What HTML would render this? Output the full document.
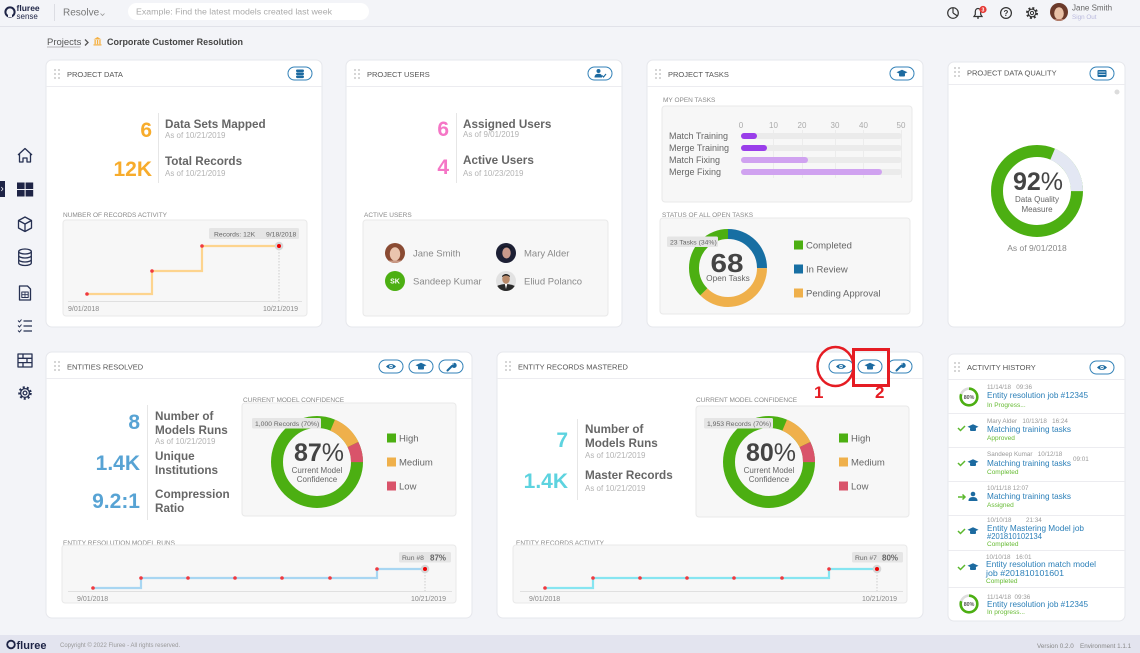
<!DOCTYPE html>
<html><head><meta charset="utf-8"><style>
html,body{margin:0;padding:0;width:1140px;height:653px;overflow:hidden;background:#f3f4f8}
svg{display:block}
text{font-family:"Liberation Sans",sans-serif}
.ct{font-size:7.5px;fill:#555}
.sub{font-size:6.5px;fill:#8a8a8a}
.lbl{font-size:11.7px;font-weight:bold;fill:#666}
.asof{font-size:8px;fill:#b3b3b3}
.ax{font-size:7px;fill:#888}
.tip{font-size:6.8px;fill:#666}
.leg{font-size:9.5px;fill:#666}
.ahd{font-size:6.3px;fill:#9a9a9a}
.aht{font-size:8.3px;fill:#2b7fb8}
.ahs{font-size:6.5px;fill:#66bb33}
.bar{font-size:9px;fill:#666}
.axn{font-size:8px;fill:#aaa}
</style></head><body>
<svg width="1140" height="653" viewBox="0 0 1140 653" xmlns="http://www.w3.org/2000/svg">
<defs>
<g id="dots" fill="#c6c6c6"><circle cx="0" cy="0" r="0.95"/><circle cx="4" cy="0" r="0.95"/><circle cx="0" cy="4" r="0.95"/><circle cx="4" cy="4" r="0.95"/><circle cx="0" cy="8" r="0.95"/><circle cx="4" cy="8" r="0.95"/></g>
<rect id="pill" x="0" y="0" width="24" height="13" rx="6.5" fill="#fff" stroke="#3382b8" stroke-width="1"/>
<g id="eye"><path d="M-5 0 Q0 -5 5 0 Q0 5 -5 0 Z" fill="#1c6aa0"/><circle r="1.7" fill="#fff"/><circle r="0.8" fill="#1c6aa0"/></g>
<g id="cap" fill="#1c6aa0"><polygon points="-5.5,-1.2 0,-3.8 5.5,-1.2 0,1.4"/><rect x="-3" y="-0.2" width="6" height="3.2" rx="1"/></g>
<g id="wrench"><path d="M-3.5 3.5 L1 -1" stroke="#1c6aa0" stroke-width="2" stroke-linecap="round"/><path d="M0.5 -1.5 A2.6 2.6 0 1 0 3.3 -4.2 L2.2 -2.2 L1.2 -3.2 L3.3 -4.2" fill="#1c6aa0"/></g>
<clipPath id="cav"><circle r="10"/></clipPath>
<clipPath id="cav9"><circle r="9"/></clipPath>
</defs>

<!-- TOP BAR -->
<line x1="0" y1="26.5" x2="1140" y2="26.5" stroke="#e1e2e9"/>
<circle cx="10" cy="12" r="4.6" fill="none" stroke="#1e2446" stroke-width="2"/>
<rect x="8" y="14" width="4" height="3" fill="#f3f4f8"/>
<text x="16.5" y="11" font-size="8.5" font-weight="bold" fill="#1e2446">fluree</text>
<text x="16.5" y="19" font-size="8" fill="#1e2446">sense</text>
<line x1="54.5" y1="4" x2="54.5" y2="21" stroke="#dcdde3"/>
<text x="63" y="15.5" font-size="10" fill="#777">Resolve</text>
<path d="M100.5 13.5 L102.5 15.5 L104.5 13.5" fill="none" stroke="#999" stroke-width="0.8"/>
<rect x="128" y="3" width="241" height="17" rx="8.5" fill="#fff"/>
<text x="136" y="14.5" font-size="8.3" fill="#aaa" textLength="196" lengthAdjust="spacingAndGlyphs">Example: Find the latest models created last week</text>
<!-- right icons -->
<circle cx="953" cy="13" r="5.3" fill="none" stroke="#333" stroke-width="1.2"/>
<path d="M953 13 V7.7 M953 13 L957.5 16" stroke="#333" stroke-width="1.2" fill="none"/>
<path d="M974 16.5 H982 L980.7 14.5 V11.5 A2.7 3 0 0 0 975.3 11.5 V14.5 Z M977 18 H979" fill="none" stroke="#333" stroke-width="1.2"/>
<circle cx="983" cy="9.5" r="3.6" fill="#e53935"/>
<text x="983" y="11.4" font-size="5.2" font-weight="bold" fill="#fff" text-anchor="middle">3</text>
<circle cx="1006" cy="13" r="5.4" fill="none" stroke="#333" stroke-width="1.2"/>
<text x="1006" y="16" font-size="8" font-weight="bold" fill="#333" text-anchor="middle">?</text>
<circle cx="1032" cy="13" r="4.8" fill="none" stroke="#333" stroke-width="2.4" stroke-dasharray="1.9 1.9"/>
<circle cx="1032" cy="13" r="3.8" fill="#f3f4f8" stroke="#333" stroke-width="1.1"/>
<circle cx="1032" cy="13" r="1.6" fill="none" stroke="#333" stroke-width="1"/>
<g transform="translate(1059,12)" clip-path="url(#cav9)"><rect x="-10" y="-10" width="20" height="20" fill="#6b3a2a"/><ellipse cx="0" cy="1.5" rx="4.8" ry="6.2" fill="#e9c1a6"/><rect x="-10" y="7" width="20" height="5" fill="#b47d6a"/></g>
<text x="1072" y="10.5" font-size="8" fill="#666">Jane Smith</text>
<text x="1072" y="19" font-size="6.3" fill="#b9b9dd">Sign Out</text>

<!-- BREADCRUMB -->
<text x="47" y="45" font-size="9.5" fill="#555">Projects</text>
<line x1="47" y1="47" x2="80.5" y2="47" stroke="#777" stroke-width="0.6"/>
<path d="M85 39.5 L88 42.5 L85 45.5" fill="none" stroke="#555" stroke-width="1.3"/>
<g fill="#f5b041"><polygon points="93.5,39.5 97.5,37 101.5,39.5"/><rect x="94.5" y="40" width="1.3" height="4.2"/><rect x="96.9" y="40" width="1.3" height="4.2"/><rect x="99.3" y="40" width="1.3" height="4.2"/><rect x="93.5" y="44.3" width="8" height="1.2"/></g>
<text x="107" y="45" font-size="9.5" font-weight="bold" fill="#444" textLength="136" lengthAdjust="spacingAndGlyphs">Corporate Customer Resolution</text>

<!-- SIDEBAR -->
<g fill="none" stroke="#263052" stroke-width="1.3" stroke-linejoin="round">
<path d="M18 155 L25 148.5 L32 155 M19.5 153.5 V162 H23 V158 H27 V162 H30.5 V153.5"/>
<path d="M25 217 L31.5 220.5 V228 L25 231.5 L18.5 228 V220.5 Z M18.5 220.5 L25 224 L31.5 220.5 M25 224 V231.5"/>
<ellipse cx="25" cy="251.5" rx="6.3" ry="2.5"/>
<path d="M18.7 251.5 V263 A6.3 2.5 0 0 0 31.3 263 V251.5 M18.7 255.5 A6.3 2.5 0 0 0 31.3 255.5 M18.7 259.5 A6.3 2.5 0 0 0 31.3 259.5"/>
<path d="M19.5 286 H27.5 L30.5 289 V300 H19.5 Z"/>
<rect x="21.8" y="292" width="6.4" height="5.5" stroke-width="1"/>
<path d="M21.8 294.7 H28.2 M25 292 V297.5" stroke-width="0.8"/>
<path d="M18 320.5 L19.5 322 L21.5 319.5 M18 325.5 L19.5 327 L21.5 324.5 M18 330.5 L19.5 332 L21.5 329.5" stroke-width="1"/>
<path d="M23.5 321 H32 M23.5 326 H32 M23.5 331 H32"/>
<rect x="18" y="354" width="14" height="13"/>
<path d="M18 358.3 H32 M18 362.6 H32 M23 354 V358.3 M27 358.3 V362.6 M23 362.6 V367"/>
<circle cx="25" cy="393" r="5.6" stroke-width="2.3" stroke-dasharray="2 2"/>
<circle cx="25" cy="393" r="4.4" fill="#f3f4f8"/>
<circle cx="25" cy="393" r="1.9"/>
</g>
<rect x="0" y="181" width="5" height="16" fill="#1e2446"/>
<path d="M1.3 187 L3 189 L1.3 191" fill="none" stroke="#fff" stroke-width="0.7"/>
<g fill="#1e2446"><rect x="17" y="182.5" width="7.6" height="6.5"/><rect x="25.6" y="182.5" width="7.6" height="6.5"/><rect x="17" y="190" width="7.6" height="6.5"/><rect x="25.6" y="190" width="7.6" height="6.5"/></g>

<!-- CARDS -->
<g fill="#fff" stroke="#e6e7ec">
<rect x="46" y="60" width="276" height="267" rx="6"/>
<rect x="346" y="60" width="276" height="267" rx="6"/>
<rect x="647" y="60" width="276" height="267" rx="6"/>
<rect x="948" y="62" width="177" height="265" rx="6"/>
<rect x="46" y="352" width="426" height="266" rx="6"/>
<rect x="497" y="352" width="426" height="266" rx="6"/>
<rect x="948" y="354" width="177" height="267" rx="6"/>
</g>
<g stroke="#ececf0">
<line x1="46" y1="86.5" x2="322" y2="86.5"/>
<line x1="346" y1="86.5" x2="622" y2="86.5"/>
<line x1="647" y1="86.5" x2="923" y2="86.5"/>
<line x1="948" y1="84.5" x2="1125" y2="84.5"/>
<line x1="46" y1="378.5" x2="472" y2="378.5"/>
<line x1="497" y1="378.5" x2="923" y2="378.5"/>
<line x1="948" y1="379.5" x2="1125" y2="379.5"/>
</g>
<use href="#dots" x="55" y="70"/><use href="#dots" x="355" y="70"/><use href="#dots" x="656" y="70"/><use href="#dots" x="955" y="68"/>
<use href="#dots" x="55" y="362"/><use href="#dots" x="506" y="362"/><use href="#dots" x="955" y="363"/>
<text class="ct" x="67" y="77">PROJECT DATA</text>
<text class="ct" x="367" y="77">PROJECT USERS</text>
<text class="ct" x="668" y="77">PROJECT TASKS</text>
<text class="ct" x="967" y="75.5">PROJECT DATA QUALITY</text>
<text class="ct" x="67" y="369.5">ENTITIES RESOLVED</text>
<text class="ct" x="518" y="369.5">ENTITY RECORDS MASTERED</text>
<text class="ct" x="967" y="370">ACTIVITY HISTORY</text>

<!-- pill buttons -->
<use href="#pill" x="288" y="67"/>
<g fill="#1c6aa0"><rect x="296" y="69.5" width="8" height="2.6" rx="1.2"/><rect x="296" y="72.5" width="8" height="2.6" rx="1.2"/><rect x="296" y="75.5" width="8" height="2.6" rx="1.2"/></g>
<use href="#pill" x="588" y="67"/>
<g fill="#1c6aa0"><circle cx="598.5" cy="71" r="2"/><path d="M594.5 77.5 Q594.5 73.8 598.5 73.8 Q601.5 73.8 602 76 L602 77.5 Z"/></g>
<path d="M602 75.5 L603.5 77 L606 74" fill="none" stroke="#1c6aa0" stroke-width="1.1"/>
<use href="#pill" x="890" y="67"/><use href="#cap" x="902" y="73.5"/>
<use href="#pill" x="1090" y="67"/>
<rect x="1097.5" y="70" width="9" height="7" rx="1" fill="#1c6aa0"/><path d="M1098.5 72 H1105.5 M1098.5 74.5 H1105.5" stroke="#fff" stroke-width="0.7"/>
<use href="#pill" x="379" y="360"/><use href="#eye" x="391" y="366.5"/>
<use href="#pill" x="409" y="360"/><use href="#cap" x="421" y="366.5"/>
<use href="#pill" x="439" y="360"/><use href="#wrench" x="451" y="367"/>
<use href="#pill" x="829" y="360"/><use href="#eye" x="841" y="366.5"/>
<use href="#pill" x="858" y="360"/><use href="#cap" x="870" y="366.5"/>
<use href="#pill" x="888" y="360"/><use href="#wrench" x="900" y="367"/>
<use href="#pill" x="1090" y="361"/><use href="#eye" x="1102" y="367.5"/>

<!-- PROJECT DATA -->
<g font-weight="bold" fill="#f7ac2c" font-size="21" text-anchor="end">
<text x="152" y="137">6</text><text x="152" y="176">12K</text></g>
<line x1="158.5" y1="113" x2="158.5" y2="183" stroke="#e6e6e6"/>
<text class="lbl" x="165" y="128">Data Sets Mapped</text>
<text class="asof" x="165" y="138">As of 10/21/2019</text>
<text class="lbl" x="165" y="165">Total Records</text>
<text class="asof" x="165" y="176">As of 10/21/2019</text>
<text class="sub" x="63" y="217">NUMBER OF RECORDS ACTIVITY</text>
<rect x="63" y="220" width="244" height="96" rx="3" fill="#f7f7f7" stroke="#e9e9e9"/>
<line x1="68" y1="301.5" x2="302" y2="301.5" stroke="#e0e0e0"/>
<line x1="279" y1="246" x2="279" y2="301" stroke="#ccc" stroke-dasharray="1.5 1.5"/>
<polyline points="87,294 152,294 152,271 202,271 202,246 279,246" fill="none" stroke="#fdd48e" stroke-width="2.2"/>
<g fill="#f0393f"><circle cx="87" cy="294" r="1.8"/><circle cx="152" cy="271" r="1.8"/><circle cx="202" cy="246" r="1.8"/></g>
<circle cx="279" cy="246" r="4.3" fill="#d6d6d6"/><circle cx="279" cy="246" r="2" fill="#e00"/>
<rect x="209" y="228" width="90" height="11" rx="1.5" fill="#e5e5e5"/>
<text class="tip" x="214" y="236.3">Records: 12K</text><text class="tip" x="266" y="236.3">9/18/2018</text>
<text class="ax" x="68" y="311">9/01/2018</text>
<text class="ax" x="298" y="311" text-anchor="end">10/21/2019</text>

<!-- PROJECT USERS -->
<g font-weight="bold" fill="#f576c6" font-size="21" text-anchor="end">
<text x="449" y="136">6</text><text x="449" y="174">4</text></g>
<line x1="456.5" y1="113" x2="456.5" y2="183" stroke="#e6e6e6"/>
<text class="lbl" x="463" y="128">Assigned Users</text>
<text class="asof" x="463" y="137">As of 9/01/2019</text>
<text class="lbl" x="463" y="164">Active Users</text>
<text class="asof" x="463" y="176">As of 10/23/2019</text>
<text class="sub" x="364" y="217">ACTIVE USERS</text>
<rect x="363" y="220" width="245" height="96" rx="3" fill="#f7f7f7" stroke="#e9e9e9"/>
<g transform="translate(395,253)" clip-path="url(#cav)"><rect x="-10" y="-10" width="20" height="20" fill="#8a4b33"/><ellipse cx="0" cy="1" rx="5.2" ry="6.8" fill="#eac5ae"/><rect x="-10" y="7.5" width="20" height="4" fill="#c99985"/></g>
<circle cx="395" cy="281" r="10" fill="#4caf12"/><text x="395" y="283.5" font-size="7" font-weight="bold" fill="#fff" text-anchor="middle">SK</text>
<g transform="translate(506,253)" clip-path="url(#cav)"><rect x="-10" y="-10" width="20" height="20" fill="#1d2035"/><ellipse cx="0.5" cy="0" rx="4.2" ry="5.5" fill="#c99a8c"/><path d="M-6 -3 Q0 -10 6 -3 L5 -5 Q0 -9 -5 -5 Z" fill="#111"/></g>
<g transform="translate(506,281)" clip-path="url(#cav)"><rect x="-10" y="-10" width="20" height="20" fill="#e2e2e2"/><ellipse cx="0" cy="-2" rx="3.8" ry="4.8" fill="#b98a6a"/><path d="M-4 -5 Q0 -9 4 -5 L4 -4 Q0 -7 -4 -4 Z" fill="#222"/><path d="M-10 10 L-9 5 Q0 1 9 5 L10 10 Z" fill="#2a2a2a"/><path d="M-1.2 3 L0 8 L1.2 3 Z" fill="#fff"/></g>
<text x="413" y="256.5" font-size="9.5" fill="#8a8a8a">Jane Smith</text>
<text x="413" y="284.5" font-size="9.5" fill="#8a8a8a">Sandeep Kumar</text>
<text x="524" y="256.5" font-size="9.5" fill="#8a8a8a">Mary Alder</text>
<text x="524" y="284.5" font-size="9.5" fill="#8a8a8a">Eliud Polanco</text>

<!-- PROJECT TASKS -->
<text class="sub" x="663" y="102">MY OPEN TASKS</text>
<rect x="662" y="106" width="250" height="96" rx="3" fill="#f7f7f7" stroke="#e9e9e9"/>
<g stroke="#ececec"><line x1="773.5" y1="130" x2="773.5" y2="178"/><line x1="802.5" y1="130" x2="802.5" y2="178"/><line x1="835.5" y1="130" x2="835.5" y2="178"/><line x1="863.5" y1="130" x2="863.5" y2="178"/><line x1="901.5" y1="130" x2="901.5" y2="178"/></g>
<g class="axn" text-anchor="middle"><text class="axn" x="741" y="128">0</text><text class="axn" x="773.5" y="128">10</text><text class="axn" x="802" y="128">20</text><text class="axn" x="835" y="128">30</text><text class="axn" x="863.5" y="128">40</text><text class="axn" x="901" y="128">50</text></g>
<g fill="#ebebeb"><rect x="741" y="133" width="161" height="6" rx="3"/><rect x="741" y="145" width="161" height="6" rx="3"/><rect x="741" y="157" width="161" height="6" rx="3"/><rect x="741" y="169" width="161" height="6" rx="3"/></g>
<rect x="741" y="133" width="16" height="6" rx="3" fill="#9a3eea"/>
<rect x="741" y="145" width="26" height="6" rx="3" fill="#9a3eea"/>
<rect x="741" y="157" width="67" height="6" rx="3" fill="#d0a2f0"/>
<rect x="741" y="169" width="141" height="6" rx="3" fill="#d0a2f0"/>
<text class="bar" x="669" y="139">Match Training</text>
<text class="bar" x="669" y="151">Merge Training</text>
<text class="bar" x="669" y="163">Match Fixing</text>
<text class="bar" x="669" y="175">Merge Fixing</text>
<text class="sub" x="662" y="217">STATUS OF ALL OPEN TASKS</text>
<rect x="660" y="218" width="250" height="96" rx="3" fill="#f7f7f7" stroke="#e9e9e9"/>
<g transform="rotate(-90 728 268)" fill="none" stroke-width="10">
<circle cx="728" cy="268" r="34" stroke="#176fa3" stroke-dasharray="53.4 300"/>
<circle cx="728" cy="268" r="34" stroke="#efb04b" stroke-dasharray="80.1 300" stroke-dashoffset="-53.4"/>
<circle cx="728" cy="268" r="34" stroke="#4caf12" stroke-dasharray="80.1 300" stroke-dashoffset="-133.5"/>
</g>
<text x="727" y="272" font-size="26" font-weight="bold" fill="#444" text-anchor="middle" textLength="33" lengthAdjust="spacingAndGlyphs">68</text>
<text x="728" y="281" font-size="8.3" fill="#666" text-anchor="middle">Open Tasks</text>
<rect x="667" y="236.5" width="51" height="10.5" rx="1.5" fill="#e5e5e5"/>
<text class="tip" x="670" y="244.3">23 Tasks (34%)</text>
<rect x="794" y="240.5" width="9" height="9" fill="#4caf12"/><text class="leg" x="806" y="248.5">Completed</text>
<rect x="794" y="264.5" width="9" height="9" fill="#176fa3"/><text class="leg" x="806" y="272.5">In Review</text>
<rect x="794" y="288.5" width="9" height="9" fill="#efb04b"/><text class="leg" x="806" y="296.5">Pending Approval</text>

<!-- DATA QUALITY -->
<circle cx="1117" cy="92" r="2.5" fill="#dcdcdc"/>
<circle cx="1037" cy="191" r="40" fill="none" stroke="#4caf12" stroke-width="12"/>
<circle cx="1037" cy="191" r="40" fill="none" stroke="#e3e7f3" stroke-width="12" stroke-dasharray="46.8 400" stroke-dashoffset="-16.06" transform="rotate(-90 1037 191)"/>
<text x="1038" y="190" font-size="25" fill="#444" text-anchor="middle"><tspan font-weight="bold">92</tspan><tspan>%</tspan></text>
<text x="1037" y="202" font-size="8" fill="#666" text-anchor="middle">Data Quality</text>
<text x="1037" y="212" font-size="8" fill="#666" text-anchor="middle">Measure</text>
<text x="1037" y="251" font-size="8.5" fill="#888" text-anchor="middle">As of 9/01/2018</text>

<!-- ENTITIES RESOLVED -->
<g font-weight="bold" fill="#57a3d4" font-size="21" text-anchor="end">
<text x="140" y="429">8</text><text x="140" y="470">1.4K</text><text x="140" y="508">9.2:1</text></g>
<line x1="147.5" y1="405" x2="147.5" y2="520" stroke="#e6e6e6"/>
<text class="lbl" x="155" y="420">Number of</text>
<text class="lbl" x="155" y="434">Models Runs</text>
<text class="asof" x="155" y="444">As of 10/21/2019</text>
<text class="lbl" x="155" y="460">Unique</text>
<text class="lbl" x="155" y="474">Institutions</text>
<text class="lbl" x="155" y="498">Compression</text>
<text class="lbl" x="155" y="512">Ratio</text>
<text class="sub" x="243" y="402">CURRENT MODEL CONFIDENCE</text>
<rect x="242" y="403" width="214" height="113" rx="3" fill="#f7f7f7" stroke="#e9e9e9"/>
<circle cx="317" cy="462" r="40" fill="none" stroke="#4caf12" stroke-width="12"/>
<g transform="rotate(-90 317 462)" fill="none" stroke-width="12">
<circle cx="317" cy="462" r="40" stroke="#efb04b" stroke-dasharray="28.6 400" stroke-dashoffset="-16.06"/>
<circle cx="317" cy="462" r="40" stroke="#d9536a" stroke-dasharray="18.15 400" stroke-dashoffset="-44.68"/>
</g>
<text x="319" y="461" font-size="25" fill="#444" text-anchor="middle"><tspan font-weight="bold">87</tspan><tspan>%</tspan></text>
<text x="317" y="473" font-size="8" fill="#666" text-anchor="middle">Current Model</text>
<text x="317" y="482" font-size="8" fill="#666" text-anchor="middle">Confidence</text>
<rect x="252" y="418" width="69" height="10.5" rx="1.5" fill="#e5e5e5"/>
<text class="tip" x="255" y="425.8">1,000 Records (70%)</text>
<rect x="387" y="433.5" width="9" height="9" fill="#4caf12"/><text class="leg" x="399" y="441.5">High</text>
<rect x="387" y="457.5" width="9" height="9" fill="#efb04b"/><text class="leg" x="399" y="465.5">Medium</text>
<rect x="387" y="481.5" width="9" height="9" fill="#d9536a"/><text class="leg" x="399" y="489.5">Low</text>
<text class="sub" x="63" y="545">ENTITY RESOLUTION MODEL RUNS</text>
<rect x="62" y="545" width="394" height="58" rx="3" fill="#f7f7f7" stroke="#e9e9e9"/>
<line x1="68" y1="591.5" x2="452" y2="591.5" stroke="#e0e0e0"/>
<line x1="425" y1="569" x2="425" y2="591" stroke="#ccc" stroke-dasharray="1.5 1.5"/>
<polyline points="93,588 141,588 141,578 377,578 377,569 425,569" fill="none" stroke="#a8d6f2" stroke-width="2.2"/>
<g fill="#f0393f"><circle cx="93" cy="588" r="1.8"/><circle cx="141" cy="578" r="1.8"/><circle cx="188" cy="578" r="1.8"/><circle cx="235" cy="578" r="1.8"/><circle cx="282" cy="578" r="1.8"/><circle cx="330" cy="578" r="1.8"/><circle cx="377" cy="569" r="1.8"/></g>
<circle cx="425" cy="569" r="4.3" fill="#d6d6d6"/><circle cx="425" cy="569" r="2" fill="#e00"/>
<rect x="399" y="552" width="52" height="10.5" rx="1.5" fill="#e5e5e5"/>
<text class="tip" x="402" y="560">Run #8</text><text x="430" y="560.3" font-size="8" font-weight="bold" fill="#666">87%</text>
<text class="ax" x="77" y="601">9/01/2018</text>
<text class="ax" x="446" y="601" text-anchor="end">10/21/2019</text>

<!-- ENTITY RECORDS MASTERED -->
<g font-weight="bold" fill="#5dd3df" font-size="21" text-anchor="end">
<text x="568" y="447">7</text><text x="568" y="488">1.4K</text></g>
<line x1="577.5" y1="419" x2="577.5" y2="500" stroke="#e6e6e6"/>
<text class="lbl" x="585" y="433">Number of</text>
<text class="lbl" x="585" y="447">Models Runs</text>
<text class="asof" x="585" y="458">As of 10/21/2019</text>
<text class="lbl" x="585" y="479">Master Records</text>
<text class="asof" x="585" y="491">As of 10/21/2019</text>
<text class="sub" x="696" y="402">CURRENT MODEL CONFIDENCE</text>
<rect x="696" y="406" width="213" height="111" rx="3" fill="#f7f7f7" stroke="#e9e9e9"/>
<circle cx="769" cy="462" r="40" fill="none" stroke="#4caf12" stroke-width="12"/>
<g transform="rotate(-90 769 462)" fill="none" stroke-width="12">
<circle cx="769" cy="462" r="40" stroke="#efb04b" stroke-dasharray="28.6 400" stroke-dashoffset="-16.06"/>
<circle cx="769" cy="462" r="40" stroke="#d9536a" stroke-dasharray="18.15 400" stroke-dashoffset="-44.68"/>
</g>
<text x="771" y="461" font-size="25" fill="#444" text-anchor="middle"><tspan font-weight="bold">80</tspan><tspan>%</tspan></text>
<text x="769" y="473" font-size="8" fill="#666" text-anchor="middle">Current Model</text>
<text x="769" y="482" font-size="8" fill="#666" text-anchor="middle">Confidence</text>
<rect x="704" y="418" width="69" height="10.5" rx="1.5" fill="#e5e5e5"/>
<text class="tip" x="707" y="425.8">1,953 Records (70%)</text>
<rect x="839" y="433.5" width="9" height="9" fill="#4caf12"/><text class="leg" x="851" y="441.5">High</text>
<rect x="839" y="457.5" width="9" height="9" fill="#efb04b"/><text class="leg" x="851" y="465.5">Medium</text>
<rect x="839" y="481.5" width="9" height="9" fill="#d9536a"/><text class="leg" x="851" y="489.5">Low</text>
<text class="sub" x="516" y="545">ENTITY RECORDS ACTIVITY</text>
<rect x="513" y="545" width="394" height="58" rx="3" fill="#f7f7f7" stroke="#e9e9e9"/>
<line x1="520" y1="591.5" x2="903" y2="591.5" stroke="#e0e0e0"/>
<line x1="877" y1="569" x2="877" y2="591" stroke="#ccc" stroke-dasharray="1.5 1.5"/>
<polyline points="545,588 593,588 593,578 829,578 829,569 877,569" fill="none" stroke="#86e5f1" stroke-width="2.2"/>
<g fill="#f0393f"><circle cx="545" cy="588" r="1.8"/><circle cx="593" cy="578" r="1.8"/><circle cx="640" cy="578" r="1.8"/><circle cx="687" cy="578" r="1.8"/><circle cx="734" cy="578" r="1.8"/><circle cx="782" cy="578" r="1.8"/><circle cx="829" cy="569" r="1.8"/></g>
<circle cx="877" cy="569" r="4.3" fill="#d6d6d6"/><circle cx="877" cy="569" r="2" fill="#e00"/>
<rect x="852" y="552" width="51" height="10.5" rx="1.5" fill="#e5e5e5"/>
<text class="tip" x="855" y="560">Run #7</text><text x="882" y="560.3" font-size="8" font-weight="bold" fill="#666">80%</text>
<text class="ax" x="529" y="601">9/01/2018</text>
<text class="ax" x="897" y="601" text-anchor="end">10/21/2019</text>
<!-- annotations -->
<ellipse cx="835.5" cy="366.5" rx="18" ry="19.5" fill="none" stroke="#e51c23" stroke-width="2.5"/>
<rect x="853.5" y="349.5" width="35" height="36" fill="none" stroke="#e51c23" stroke-width="3"/>
<text x="814" y="398" font-size="17" font-weight="bold" fill="#e51c23">1</text>
<text x="875" y="398" font-size="17" font-weight="bold" fill="#e51c23">2</text>

<!-- ACTIVITY HISTORY -->
<g stroke="#ececf0"><line x1="948" y1="413.5" x2="1125" y2="413.5"/><line x1="948" y1="447.5" x2="1125" y2="447.5"/><line x1="948" y1="481.5" x2="1125" y2="481.5"/><line x1="948" y1="515.5" x2="1125" y2="515.5"/><line x1="948" y1="550.5" x2="1125" y2="550.5"/><line x1="948" y1="587.5" x2="1125" y2="587.5"/></g>
<circle cx="969" cy="397" r="8.3" fill="none" stroke="#ddd" stroke-width="2.6"/>
<circle cx="969" cy="397" r="8.3" fill="none" stroke="#4caf12" stroke-width="2.6" stroke-dasharray="41.7 100" transform="rotate(-90 969 397)"/>
<text x="969" y="399" font-size="5.3" font-weight="bold" fill="#555" text-anchor="middle">80%</text>
<circle cx="969" cy="604" r="8.3" fill="none" stroke="#ddd" stroke-width="2.6"/>
<circle cx="969" cy="604" r="8.3" fill="none" stroke="#4caf12" stroke-width="2.6" stroke-dasharray="41.7 100" transform="rotate(-90 969 604)"/>
<text x="969" y="606" font-size="5.3" font-weight="bold" fill="#555" text-anchor="middle">80%</text>
<g fill="none" stroke="#5cb82e" stroke-width="1.5">
<path d="M958 428 L960.5 430.5 L965 426"/><path d="M958 463 L960.5 465.5 L965 461"/>
<path d="M958 531 L960.5 533.5 L965 529"/><path d="M958 567 L960.5 569.5 L965 565"/>
<path d="M958 497 H965 M962.5 494.5 L965 497 L962.5 499.5"/></g>
<use href="#cap" x="973" y="428"/><use href="#cap" x="973" y="463"/><use href="#cap" x="973" y="531"/><use href="#cap" x="973" y="567"/>
<g fill="#1c6aa0"><circle cx="973" cy="494" r="2.3"/><path d="M968.5 501 Q968.5 497 973 497 Q977.5 497 977.5 501 Z"/></g>
<text class="ahd" x="987" y="389">11/14/18 &#160;&#160;09:36</text>
<text class="aht" x="987" y="398" textLength="101" lengthAdjust="spacingAndGlyphs">Entity resolution job #12345</text>
<text class="ahs" x="987" y="407">In Progress...</text>
<text class="ahd" x="987" y="423">Mary Alder &#160;&#160;10/13/18 &#160;&#160;16:24</text>
<text class="aht" x="987" y="432" textLength="84" lengthAdjust="spacingAndGlyphs">Matching training tasks</text>
<text class="ahs" x="987" y="440">Approved</text>
<text class="ahd" x="987" y="456">Sandeep Kumar &#160;&#160;10/12/18</text>
<text class="ahd" x="1073" y="461">09:01</text>
<text class="aht" x="987" y="466" textLength="84" lengthAdjust="spacingAndGlyphs">Matching training tasks</text>
<text class="ahs" x="987" y="474">Completed</text>
<text class="ahd" x="987" y="490">10/11/18 12:07</text>
<text class="aht" x="987" y="499" textLength="84" lengthAdjust="spacingAndGlyphs">Matching training tasks</text>
<text class="ahs" x="987" y="507">Assigned</text>
<text class="ahd" x="987" y="522">10/10/18</text><text class="ahd" x="1026" y="522">21:34</text>
<text class="aht" x="987" y="531" textLength="97" lengthAdjust="spacingAndGlyphs">Entity Mastering Model job</text>
<text class="aht" x="987" y="539" textLength="55" lengthAdjust="spacingAndGlyphs">#201810102134</text>
<text class="ahs" x="987" y="546">Completed</text>
<text class="ahd" x="986" y="559">10/10/18 &#160;&#160;16:01</text>
<text class="aht" x="986" y="567" textLength="110" lengthAdjust="spacingAndGlyphs">Entity resolution match model</text>
<text class="aht" x="986" y="576" textLength="78" lengthAdjust="spacingAndGlyphs">job #201810101601</text>
<text class="ahs" x="986" y="583">Completed</text>
<text class="ahd" x="987" y="599">11/14/18 &#160;09:36</text>
<text class="aht" x="987" y="607" textLength="101" lengthAdjust="spacingAndGlyphs">Entity resolution job #12345</text>
<text class="ahs" x="987" y="614">In progress...</text>

<!-- FOOTER -->
<rect x="0" y="635" width="1140" height="18" fill="#e3e4ef"/>
<circle cx="11" cy="644.5" r="3.8" fill="none" stroke="#1e2446" stroke-width="1.8"/>
<text x="16.5" y="649" font-size="11" font-weight="bold" fill="#1e2446">fluree</text>
<text x="60" y="647" font-size="6" fill="#999">Copyright © 2022 Fluree - All rights reserved.</text>
<text x="1037" y="648" font-size="6.3" fill="#888">Version 0.2.0</text>
<text x="1080" y="648" font-size="6.3" fill="#888">Environment 1.1.1</text>
</svg>
</body></html>
